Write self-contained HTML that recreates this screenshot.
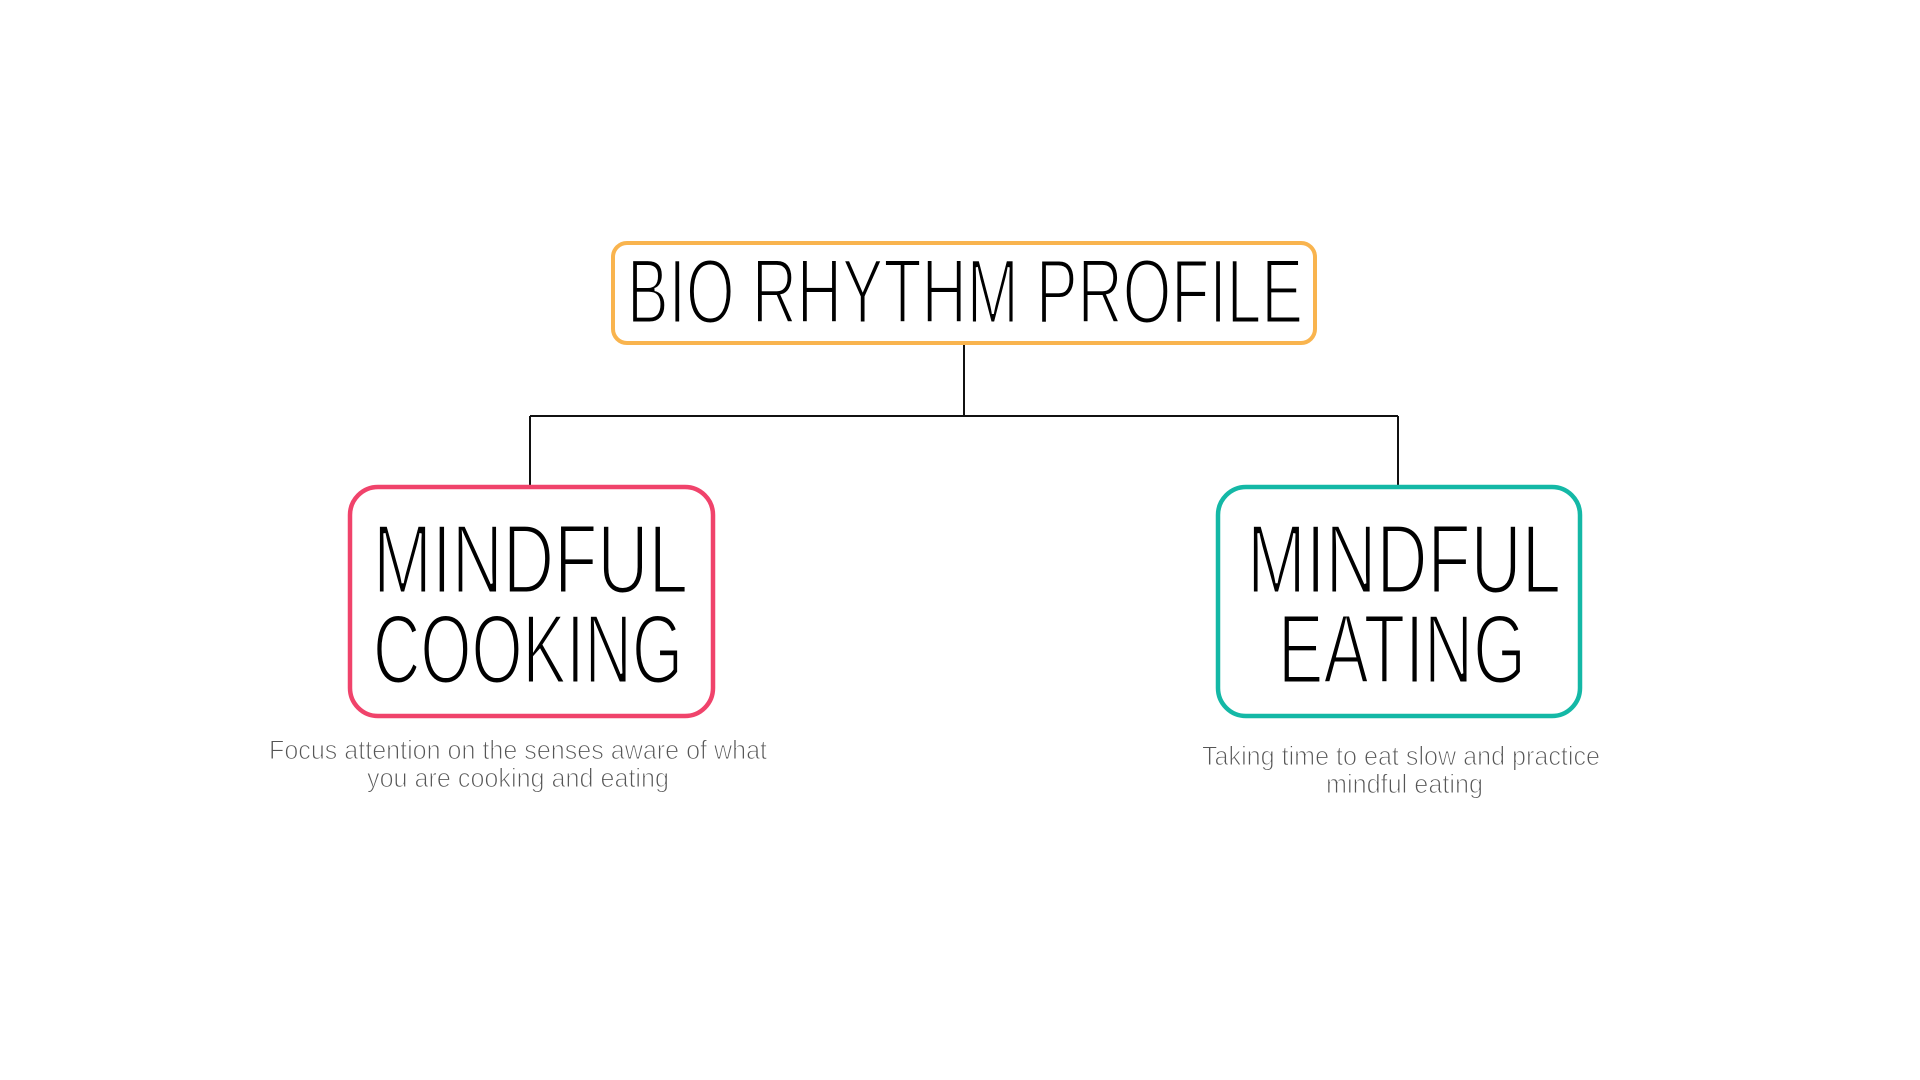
<!DOCTYPE html>
<html><head><meta charset="utf-8"><style>
html,body{margin:0;padding:0;background:#fff;}
svg{display:block;}
</style></head><body>
<svg width="1920" height="1080" viewBox="0 0 1920 1080" xmlns="http://www.w3.org/2000/svg">
<rect width="1920" height="1080" fill="#fff"/>
<g fill="none" stroke="#111" stroke-width="2">
<line x1="964" y1="345" x2="964" y2="416"/>
<line x1="530" y1="416" x2="1398" y2="416"/>
<line x1="530" y1="416" x2="530" y2="486"/>
<line x1="1398" y1="416" x2="1398" y2="486"/>
</g>
<rect x="613" y="243" width="702" height="100" rx="14" fill="#fff" stroke="#F9B44E" stroke-width="4"/>
<rect x="350" y="487" width="363" height="229" rx="28" fill="#fff" stroke="#F0436B" stroke-width="4.5"/>
<rect x="1218" y="487" width="362" height="229" rx="28" fill="#fff" stroke="#14B8A6" stroke-width="4.5"/>
<g font-family="Liberation Sans, sans-serif" fill="#000" font-weight="normal" stroke="#fff" stroke-width="3">
<text x="627" y="323" font-size="92" textLength="676" lengthAdjust="spacingAndGlyphs">BIO RHYTHM PROFILE</text>
<text x="373" y="593" font-size="98" textLength="315" lengthAdjust="spacingAndGlyphs">MINDFUL</text>
<text x="373" y="683" font-size="98" textLength="310" lengthAdjust="spacingAndGlyphs">COOKING</text>
<text x="1247" y="593" font-size="98" textLength="314" lengthAdjust="spacingAndGlyphs">MINDFUL</text>
<text x="1278" y="683" font-size="98" textLength="248" lengthAdjust="spacingAndGlyphs">EATING</text>
</g>
<g font-family="Liberation Sans, sans-serif" fill="#555" font-size="27" stroke="#fff" stroke-width="1">
<text x="269" y="759" textLength="498" lengthAdjust="spacingAndGlyphs">Focus attention on the senses aware of what</text>
<text x="367" y="787" textLength="302" lengthAdjust="spacingAndGlyphs">you are cooking and eating</text>
<text x="1202" y="765" textLength="398" lengthAdjust="spacingAndGlyphs">Taking time to eat slow and practice</text>
<text x="1326" y="793" textLength="157" lengthAdjust="spacingAndGlyphs">mindful eating</text>
</g>
</svg>
</body></html>
